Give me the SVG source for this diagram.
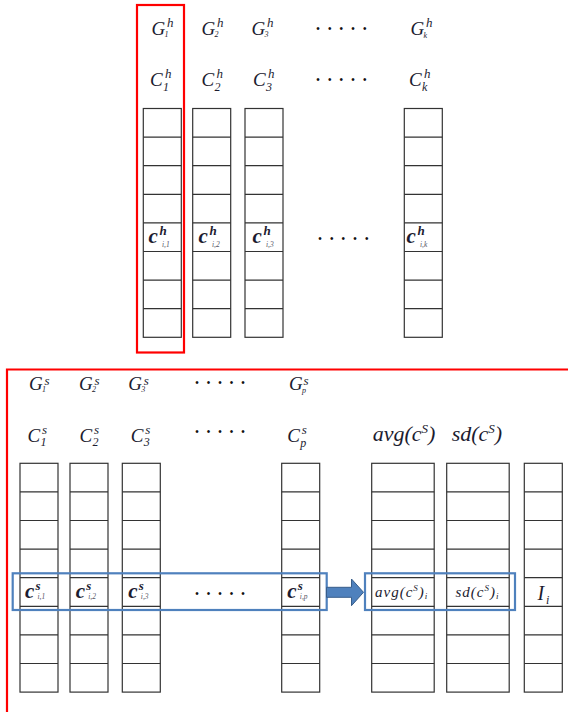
<svg xmlns="http://www.w3.org/2000/svg" xmlns:xlink="http://www.w3.org/1999/xlink" width="568" height="712" viewBox="0 0 568 712">
<style>
.m{font-family:"Liberation Serif","DejaVu Serif",serif;font-style:italic;font-size:19px;fill:#1c1c30}
.c{font-size:21px;font-weight:bold}
.sp{font-size:13px}
.sb{font-size:8px}
.sc{font-size:12px}
.tiny{font-size:7.5px;font-weight:normal;fill:#556}
.dots{font-family:"Liberation Sans",sans-serif;font-size:10px;fill:#111}
.grid{fill:none;stroke:#333;stroke-width:1.2}
.red{fill:none;stroke:#ff0000;stroke-width:2.2}
.blue{fill:none;stroke:#4f81bd;stroke-width:2.2}
.arrow{fill:#4f81bd;stroke:#385d8a;stroke-width:1}
</style>
<defs>
<g id="col" class="grid">
<rect x="0" y="0" width="38" height="228.8"/>
<path d="M0 28.6H38M0 57.2H38M0 85.8H38M0 114.4H38M0 143H38M0 171.6H38M0 200.2H38"/>
</g>
<g id="wcol" class="grid">
<rect x="0" y="0" width="62.5" height="228.8"/>
<path d="M0 28.6H62.5M0 57.2H62.5M0 85.8H62.5M0 114.4H62.5M0 143H62.5M0 171.6H62.5M0 200.2H62.5"/>
</g>
</defs>
<rect width="568" height="712" fill="#fff"/>

<!-- top section -->
<g id="top-frame"><rect class="red" x="137" y="5" width="47" height="347.5"/></g>

<g id="h-col1">
<text class="m" x="151.5" y="35">G<tspan class="sb" x="164.5" y="37">1</tspan><tspan class="sp" x="167" y="27">h</tspan></text>
<text class="m" x="150" y="86">C<tspan class="sc" x="163" y="91">1</tspan><tspan class="sp" x="165" y="77.5">h</tspan></text>
<use xlink:href="#col" x="143.3" y="108.5"/>
<text class="m c" x="148.5" y="243">c<tspan class="sp" x="159.5" y="234.5">h</tspan><tspan class="tiny" x="162" y="246.5">i,1</tspan></text>
</g>
<g id="h-col2">
<text class="m" x="201.5" y="35">G<tspan class="sb" x="214.5" y="37">2</tspan><tspan class="sp" x="217" y="27">h</tspan></text>
<text class="m" x="201.5" y="86">C<tspan class="sc" x="214.5" y="91">2</tspan><tspan class="sp" x="216.5" y="77.5">h</tspan></text>
<use xlink:href="#col" x="192.7" y="108.5"/>
<text class="m c" x="198.5" y="243">c<tspan class="sp" x="209.5" y="234.5">h</tspan><tspan class="tiny" x="212" y="246.5">i,2</tspan></text>
</g>
<g id="h-col3">
<text class="m" x="251.5" y="35">G<tspan class="sb" x="264.5" y="37">3</tspan><tspan class="sp" x="267" y="27">h</tspan></text>
<text class="m" x="253" y="86">C<tspan class="sc" x="266" y="91">3</tspan><tspan class="sp" x="268" y="77.5">h</tspan></text>
<use xlink:href="#col" x="245" y="108.5"/>
<text class="m c" x="252.5" y="243">c<tspan class="sp" x="263.5" y="234.5">h</tspan><tspan class="tiny" x="266" y="246.5">i,3</tspan></text>
</g>
<g id="h-dots">
<text class="dots" x="316.2 327.9 339.6 351.3 363" y="31.5">•••••</text>
<text class="dots" x="316.2 327.9 339.6 351.3 363" y="82.5">•••••</text>
<text class="dots" x="318.2 329.9 341.6 353.3 365" y="241.5">•••••</text>
</g>
<g id="h-colk">
<text class="m" x="410.5" y="35">G<tspan class="sb" x="423.5" y="38">k</tspan><tspan class="sp" x="426" y="27">h</tspan></text>
<text class="m" x="409" y="86">C<tspan class="sc" x="422" y="91">k</tspan><tspan class="sp" x="424" y="77.5">h</tspan></text>
<use xlink:href="#col" x="404.3" y="108.5"/>
<text class="m c" x="406.5" y="243">c<tspan class="sp" x="417.5" y="234.5">h</tspan><tspan class="tiny" x="420" y="246.5">i,k</tspan></text>
</g>

<!-- bottom section -->
<g id="bottom-frame"><path class="red" d="M570 369.5H7V714"/></g>

<g id="s-col1">
<text class="m" x="29" y="390">G<tspan class="sb" x="42" y="392">1</tspan><tspan class="sp" x="44.5" y="384.5">s</tspan></text>
<text class="m" x="27.5" y="441.5">C<tspan class="sc" x="40.5" y="446">1</tspan><tspan class="sp" x="42" y="433.5">s</tspan></text>
<use xlink:href="#col" x="20" y="463.3"/>
<text class="m c" x="25" y="597.5">c<tspan class="sp" x="35.5" y="589.5">s</tspan><tspan class="tiny" x="37.5" y="599">i,1</tspan></text>
</g>
<g id="s-col2">
<text class="m" x="79" y="390">G<tspan class="sb" x="92" y="392">2</tspan><tspan class="sp" x="94.5" y="384.5">s</tspan></text>
<text class="m" x="79.5" y="441.5">C<tspan class="sc" x="92.5" y="446">2</tspan><tspan class="sp" x="94" y="433.5">s</tspan></text>
<use xlink:href="#col" x="70" y="463.3"/>
<text class="m c" x="75.7" y="597.5">c<tspan class="sp" x="86.2" y="589.5">s</tspan><tspan class="tiny" x="88.2" y="599">i,2</tspan></text>
</g>
<g id="s-col3">
<text class="m" x="128.3" y="390">G<tspan class="sb" x="141.3" y="392">3</tspan><tspan class="sp" x="143.8" y="384.5">s</tspan></text>
<text class="m" x="130.7" y="441.5">C<tspan class="sc" x="143.7" y="446">3</tspan><tspan class="sp" x="145.2" y="433.5">s</tspan></text>
<use xlink:href="#col" x="122.3" y="463.3"/>
<text class="m c" x="128.3" y="597.5">c<tspan class="sp" x="138.8" y="589.5">s</tspan><tspan class="tiny" x="140.8" y="599">i,3</tspan></text>
</g>
<g id="s-dots">
<text class="dots" x="195.2 206.7 218.2 229.7 241.2" y="385.5">•••••</text>
<text class="dots" x="195.2 206.7 218.2 229.7 241.2" y="434.5">•••••</text>
<text class="dots" x="195.2 206.7 218.2 229.7 241.2" y="596.5">•••••</text>
</g>
<g id="s-colp">
<text class="m" x="289" y="389.5">G<tspan class="sb" x="302" y="393">p</tspan><tspan class="sp" x="303.5" y="384.5">s</tspan></text>
<text class="m" x="287.3" y="441.5">C<tspan class="sc" x="300.3" y="447">p</tspan><tspan class="sp" x="301.8" y="433.5">s</tspan></text>
<use xlink:href="#col" x="281.7" y="463.3"/>
<text class="m c" x="287.3" y="597.5">c<tspan class="sp" x="297.8" y="589.5">s</tspan><tspan class="tiny" x="299.8" y="599">i,p</tspan></text>
</g>
<g id="avg-col">
<text class="m" x="372.7" y="441" style="font-size:22px">avg(c<tspan class="sp" dy="-8">S</tspan><tspan dy="8">)</tspan></text>
<use xlink:href="#wcol" x="371.7" y="463.3"/>
<text class="m" x="375" y="597" style="font-size:15px;letter-spacing:1px">avg(c<tspan style="font-size:9px" dy="-6">S</tspan><tspan dy="6">)</tspan><tspan style="font-size:9px" dy="2">i</tspan></text>
</g>
<g id="sd-col">
<text class="m" x="451.7" y="441" style="font-size:22px">sd(c<tspan class="sp" dy="-8">S</tspan><tspan dy="8">)</tspan></text>
<use xlink:href="#wcol" x="446.7" y="463.3"/>
<text class="m" x="455.5" y="597" style="font-size:15px;letter-spacing:1px">sd(c<tspan style="font-size:9px" dy="-6">S</tspan><tspan dy="6">)</tspan><tspan style="font-size:9px" dy="2">i</tspan></text>
</g>
<g id="i-col">
<use xlink:href="#col" x="524.3" y="463.3"/>
<text class="m" x="537.5" y="600" style="font-size:20px">I<tspan class="sc" x="546" y="603.5">i</tspan></text>
</g>

<g id="sel-left"><rect class="blue" x="12.7" y="573.3" width="314" height="36.7"/></g>
<g id="sel-right"><rect class="blue" x="365" y="573.3" width="150" height="36.7"/></g>

<g id="connectors">
<path class="arrow" d="M326.5 587.3H351.5V579L363.5 592.3L351.5 605.7V597.3H326.5Z"/>
</g>
</svg>
